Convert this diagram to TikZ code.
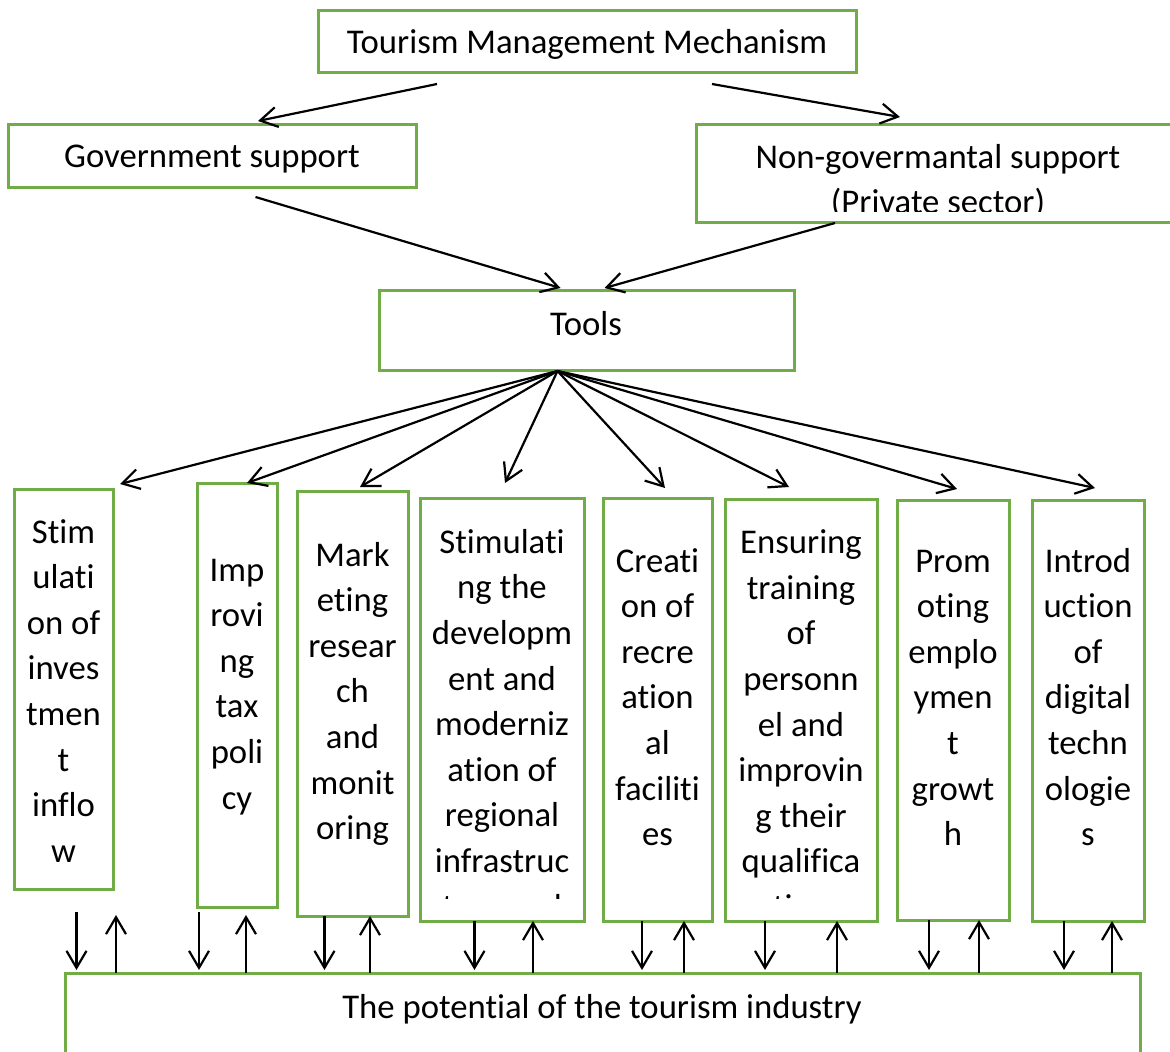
\documentclass[tikz,border=0pt]{standalone}
\usepackage{fontspec}
\setmainfont{Carlito}[Ligatures=NoCommon]
\usetikzlibrary{arrows.meta}
\definecolor{boxgreen}{RGB}{112,173,71}

\begin{document}
\begin{tikzpicture}[x=1pt, y=-1pt,
    box/.style={draw=boxgreen, line width=3pt, inner sep=0pt, outer sep=0pt, anchor=north west},
    txt/.style={inner sep=0pt, anchor=base, align=center, font=\fontsize{34.7}{45.6}\selectfont},
    arr/.style={line width=2.2pt, -{Straight Barb[length=17pt, width=20pt, line width=2.2pt]}}]
    % page = reference size (1 px -> 1 pt, y downwards)
    \useasboundingbox (0,0) rectangle (1170,1052);
    \clip (0,0) rectangle (1170,1052);

    % top levels (text nodes sit on the baseline of their last line)
    \node[box, minimum width=538pt, minimum height=62pt] (mech) at (318,10) {};
    \node[txt] (tmech) at (587,53) {Tourism Management Mechanism};
    \node[box, minimum width=408pt, minimum height=63pt] (gov) at (8,124) {};
    \node[txt] (tgov) at (212,167) {Government support};
    \node[box, minimum width=484pt, minimum height=98pt] (ngo) at (696,124) {};
    \begin{scope}
        \clip (696,124) rectangle (1170,211.5);
        \node[txt] (tngo) at (938,213.6) {Non-govermantal support\\(Private sector)};
    \end{scope}
    \node[box, minimum width=415pt, minimum height=80pt] (tools) at (379,290) {};
    \node[txt] (ttools) at (586,335) {Tools};

    % support arrows
    \draw[arr] ([xshift=-150pt,yshift=-12pt]mech.south) -- ([xshift=46pt,yshift=3pt]gov.north);
    \draw[arr] ([xshift=125pt,yshift=-12pt]mech.south) -- ([xshift=-38pt,yshift=7pt]ngo.north);
    \draw[arr] ([xshift=43.5pt,yshift=-10pt]gov.south) -- ([xshift=-26pt,yshift=2pt]tools.north);
    \draw[arr] ([xshift=-103pt,yshift=-1pt]ngo.south) -- ([xshift=18pt,yshift=2pt]tools.north);

    % the eight tools
    \foreach \i/\x/\y/\w/\h in {1/14/489/99/400, 2/197/483/80/424, 3/297/491/111/425,
        4/420/498/164/423, 5/603/498/109/423, 6/725/499/152/422, 7/897/500/112/420, 8/1032/500/112/421}
        \node[box, minimum width=\w pt, minimum height=\h pt] (c\i) at (\x,\y) {};

    \node[txt] (t1) at (63.5,862.2) {Stim\\ulati\\on of\\inves\\tmen\\t\\inflo\\w};
    \node[txt] (t2) at (237,809) {Imp\\rovi\\ng\\tax\\poli\\cy};
    \node[txt] (t3) at (352.5,839.6) {Mark\\eting\\resear\\ch\\and\\monit\\oring};
    \begin{scope}
        \clip (420,498) rectangle (584,898);
        \node[txt] (t4) at (502,918) {Stimulati\\ng the\\developm\\ent and\\moderniz\\ation of\\regional\\infrastruc\\ture and};
    \end{scope}
    \node[txt] (t5) at (657.5,845.6) {Creati\\on of\\recre\\ation\\al\\faciliti\\es};
    \begin{scope}
        \clip (725,499) rectangle (877,898);
        \node[txt] (t6) at (801,918.5) {Ensuring\\training\\of\\personn\\el and\\improvin\\g their\\qualifica\\tion};
    \end{scope}
    \node[txt] (t7) at (953,845.6) {Prom\\oting\\emplo\\ymen\\t\\growt\\h};
    \node[txt] (t8) at (1088,845.6) {Introd\\uction\\of\\digital\\techn\\ologie\\s};

    % fan out of Tools
    \coordinate (hub) at ([xshift=-29pt,yshift=-1pt]tools.south);
    \foreach \i/\dx/\dy in {1/56.5/5, 2/10/0, 3/7.5/4, 4/3/15, 5/7.5/10, 6/-12/12, 7/4/11, 8/7/12}
        \draw[arr] (hub) -- ([xshift=\dx pt, yshift=\dy pt]c\i.north);

    % potential
    \node[box, minimum width=1075pt, minimum height=100pt] (pot) at (65,973) {};
    \node[txt] (tpot) at (602,1018) {The potential of the tourism industry};

    % two-way links with the potential
    \foreach \i/\dx/\ux/\dg/\ug in {1/13/52.5/23/26, 2/-38/9/5/8, 3/-28/17.5/0/0, 4/-27.5/31/0/0,
        5/-15.5/26.5/0/0, 6/-36/36/0/0, 7/-24/26/0/0, 8/-24/24/0/0} {
        \coordinate (d\i) at ([xshift=\dx pt, yshift=-\dg pt]c\i.south);
        \coordinate (u\i) at ([xshift=\ux pt, yshift=-\ug pt]c\i.south);
        \draw[arr, shorten >=3pt] (d\i) -- (d\i |- pot.north);
        \draw[arr] (u\i |- pot.north) -- (u\i);
    }
\end{tikzpicture}
\end{document}
